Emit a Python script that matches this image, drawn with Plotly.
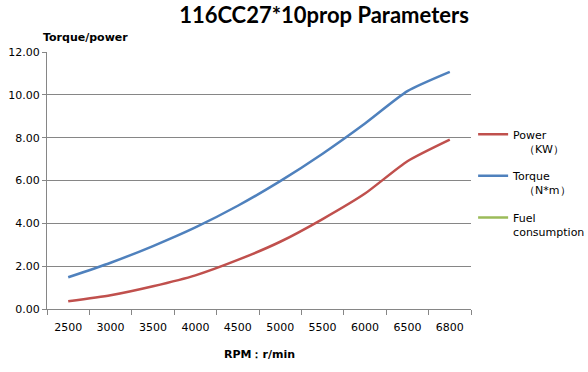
import plotly.graph_objects as go

rpm = ["2500", "3000", "3500", "4000", "4500", "5000", "5500", "6000", "6500", "6800"]
power_kw = [0.36, 0.64, 1.06, 1.57, 2.29, 3.14, 4.20, 5.39, 6.90, 7.91]
torque_nm = [1.48, 2.16, 2.94, 3.81, 4.82, 5.97, 7.25, 8.66, 10.17, 11.07]
fuel = [None] * len(rpm)

fig = go.Figure()
fig.add_trace(go.Scatter(x=rpm, y=power_kw, mode="lines", name="Power<br>　（KW）", legendgroup="p",
                         line=dict(color="#c0504d", width=2.5, shape="spline", smoothing=0.6)))
fig.add_trace(go.Scatter(x=rpm, y=torque_nm, mode="lines", name="Torque<br>　（N*m）", legendgroup="t",
                         line=dict(color="#4f81bd", width=2.5, shape="spline", smoothing=0.6)))
fig.add_trace(go.Scatter(x=rpm, y=fuel, mode="lines", name="Fuel<br>consumption", legendgroup="f",
                         line=dict(color="#9bbb59", width=2.5)))

fig.update_layout(
    width=588, height=372,
    margin=dict(l=47, r=117, t=52, b=63, autoexpand=False),
    paper_bgcolor="white", plot_bgcolor="white",
    font=dict(family="DejaVu Sans", size=11, color="black"),
    title=dict(text="<b>116CC27*10prop Parameters</b>", x=0.551, xanchor="center",
               y=0.958, yanchor="middle", font=dict(family="Lato", size=22, color="black")),
    showlegend=True,
    legend=dict(x=1.005, xanchor="left", y=0.49, yanchor="middle",
                font=dict(family="DejaVu Sans", size=11), valign="top",
                tracegroupgap=10, itemwidth=30, bgcolor="rgba(0,0,0,0)"),
    xaxis=dict(type="category", showgrid=False, showline=True, linecolor="#868686", linewidth=1,
               ticks="outside", tickson="boundaries", ticklen=5, tickcolor="#868686",
               tickfont=dict(family="DejaVu Sans", size=11), ticklabelstandoff=8, automargin=False,
               range=[-0.5, 9.5]),
    yaxis=dict(range=[0, 12], dtick=2, tickformat=".2f", showgrid=True, gridcolor="#868686", gridwidth=1,
               showline=True, linecolor="#868686", linewidth=1, ticks="outside", ticklen=4, automargin=False,
               tickcolor="#868686", zeroline=False, tickfont=dict(family="DejaVu Sans", size=11)),
)

fig.add_annotation(text="<b>Torque/power</b>", xref="paper", yref="paper", x=-0.014, y=1.0,
                   yshift=15, xanchor="left", yanchor="middle", showarrow=False,
                   font=dict(family="DejaVu Sans", size=11, color="black"))
fig.add_annotation(text="<b>RPM：r/min</b>", xref="paper", yref="paper", x=0.5, y=0.0,
                   yshift=-45, xanchor="center", yanchor="middle", showarrow=False,
                   font=dict(family="DejaVu Sans", size=11, color="black"))

fig.write_html("out.html", config={"displayModeBar": False},
               post_script="document.body.style.margin='0';")
